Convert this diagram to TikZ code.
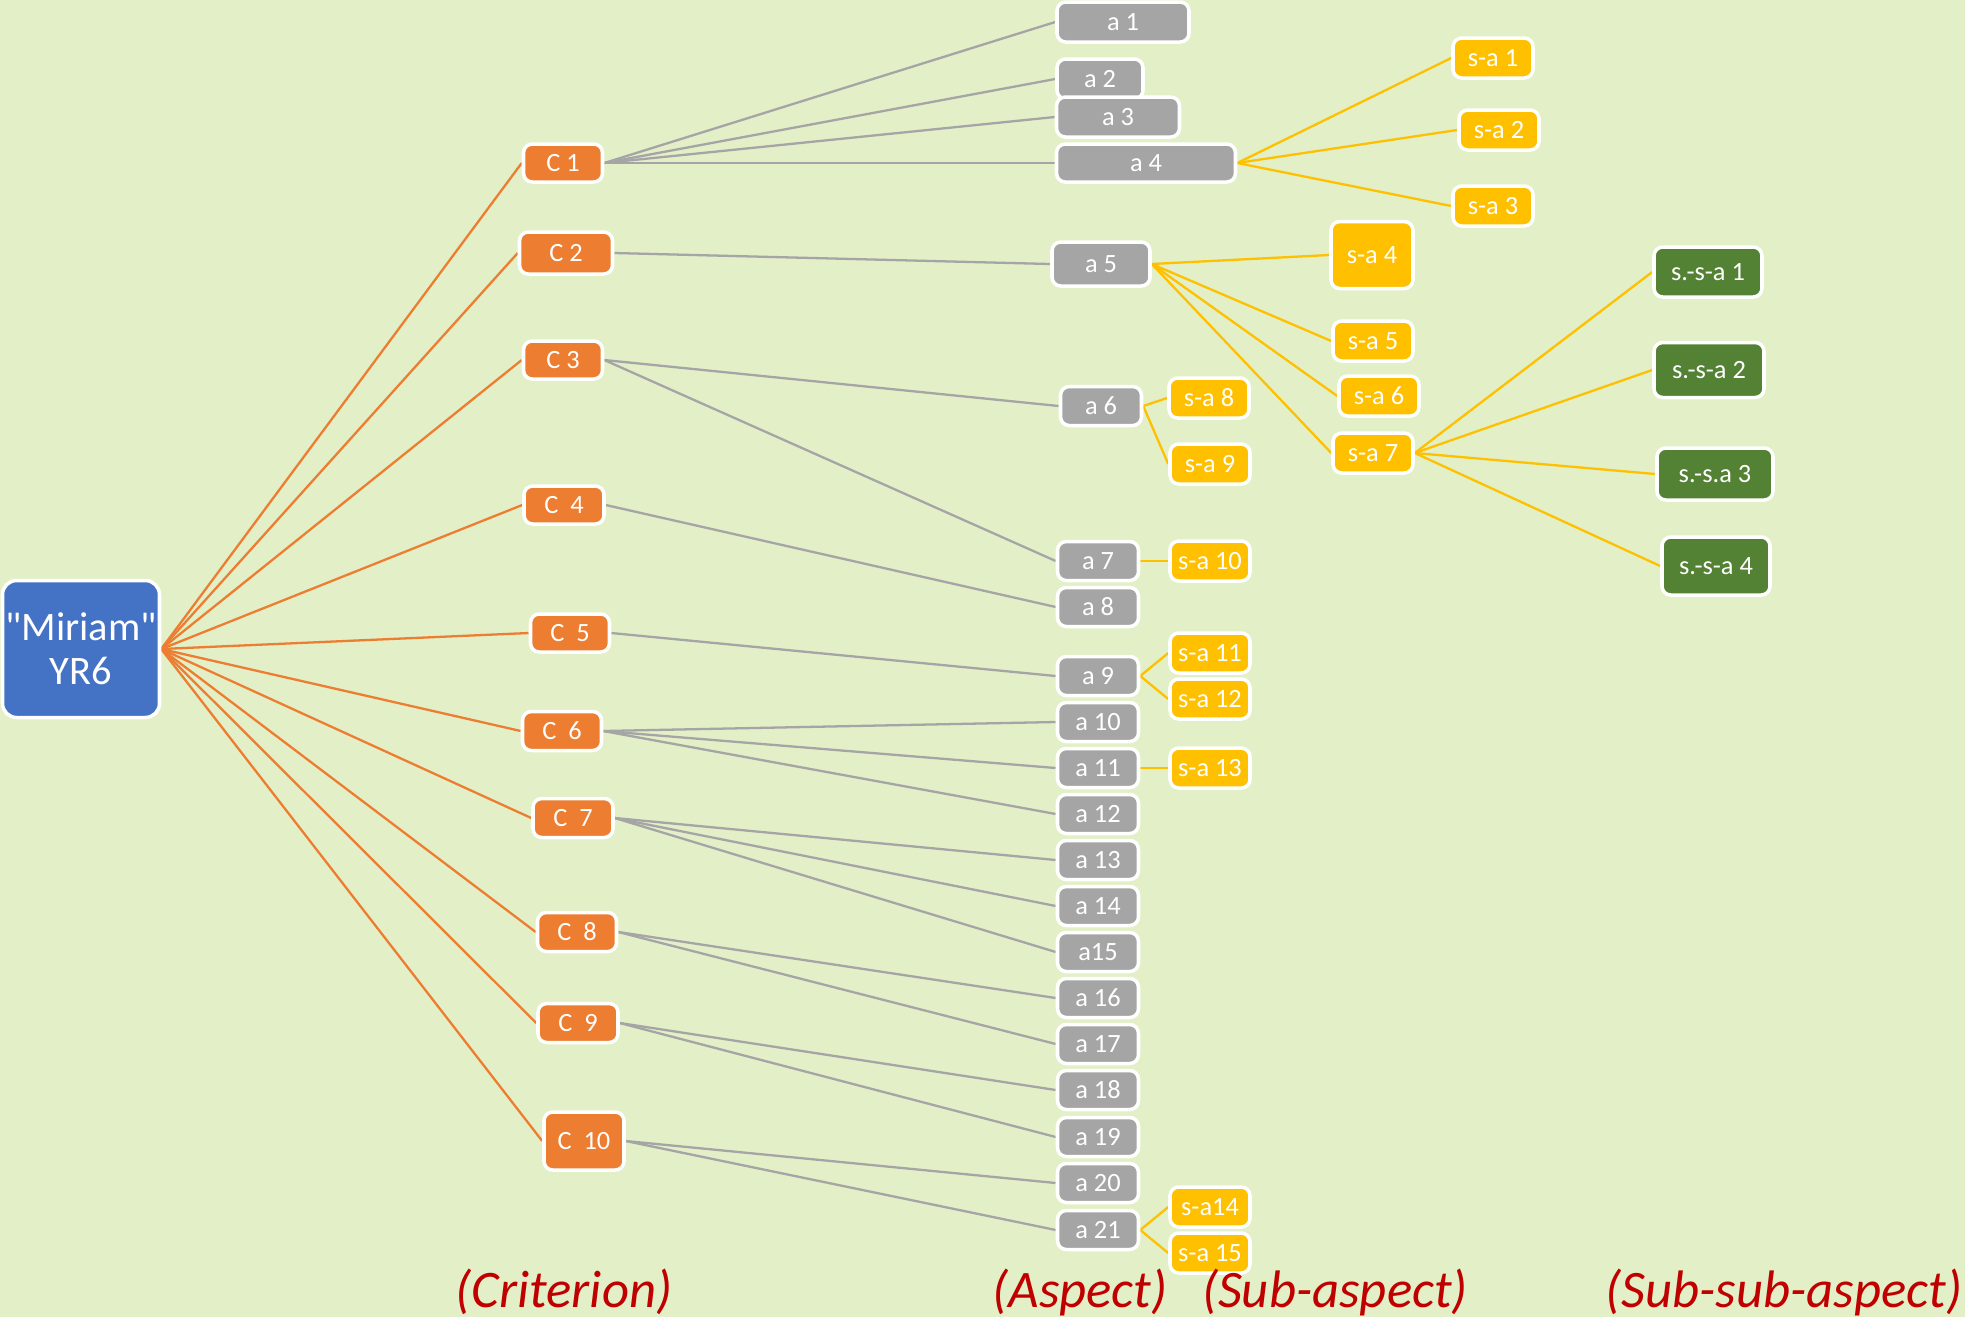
\documentclass[tikz,border=0pt]{standalone}
\usepackage{fontspec}
\setmainfont{Carlito}
\newfontfamily\rawfont{Carlito}[Ligatures=TeXOff]
\pgfdeclarelayer{bg}\pgfdeclarelayer{edges}
\pgfsetlayers{bg,edges,main}
\definecolor{bgc}{HTML}{E2EFC7}
\definecolor{bluec}{HTML}{4472C4}
\definecolor{orc}{HTML}{ED7D31}
\definecolor{grc}{HTML}{A5A5A5}
\definecolor{yec}{HTML}{FFC000}
\definecolor{gnc}{HTML}{548235}
\definecolor{redc}{HTML}{C00000}
\begin{document}
\begin{tikzpicture}[x=0.01cm,y=-0.01cm,
 box/.style={rectangle, rounded corners=2.5pt, draw=white, line width=1pt, text=white, font=\fontsize{7.5}{9}\selectfont, inner sep=0pt},
 sz/.style 2 args={minimum width=#1*0.01cm, minimum height=#2*0.01cm},
 crit/.style={box, fill=orc},
 asp/.style={box, fill=grc, sz={81}{39}},
 sub/.style={box, fill=yec, sz={80}{40}},
 ssub/.style={box, fill=gnc},
 oline/.style={draw=orc, line width=0.65pt},
 gline/.style={draw=grc, line width=0.65pt},
 yline/.style={draw=yec, line width=0.65pt},
 lbl/.style={text=redc, font=\fontsize{15}{18}\selectfont\itshape, inner sep=0pt}
]
\begin{pgfonlayer}{bg}
\path[use as bounding box, fill=bgc] (0,0) rectangle (1965,1317);
\end{pgfonlayer}

% root
\node[box, fill=bluec, rounded corners=4pt, sz={157}{137}, align=center,
  font=\rawfont\fontsize{11.5}{12.5}\selectfont] (M) at (81,649) {"Miriam"\\YR6};

% criteria
\node[crit, sz={79}{38}] (C1) at (563,163) {C 1};
\node[crit, sz={93}{42}] (C2) at (566,253) {C 2};
\node[crit, sz={79}{38}] (C3) at (563,360) {C 3};
\node[crit, sz={80}{38}] (C4) at (564,505) {C\ \ 4};
\node[crit, sz={79}{38}] (C5) at (570,633) {C\ \ 5};
\node[crit, sz={79}{39}] (C6) at (562,731) {C\ \ 6};
\node[crit, sz={80}{39}] (C7) at (573,818) {C\ \ 7};
\node[crit, sz={79}{39}] (C8) at (577,932) {C\ \ 8};
\node[crit, sz={80}{39}] (C9) at (578,1023) {C\ \ 9};
\node[crit, sz={80}{58}] (C10) at (584,1141) {C\ \ 10};

% aspects
\node[asp, sz={132}{40}] (a1) at (1123,22) {a 1};
\node[asp, sz={86}{40}] (a2) at (1100,79) {a 2};
\node[asp, sz={123}{40}] (a3) at (1118,117) {a 3};
\node[asp, sz={179}{38}] (a4) at (1146,163) {a 4};
\node[asp, sz={98}{44}] (a5) at (1101,264) {a 5};
\node[asp] (a6) at (1101,406) {a 6};
\node[asp] (a7) at (1098,561) {a 7};
\node[asp] (a8) at (1098,607) {a 8};
\node[asp] (a9) at (1098,676) {a 9};
\node[asp] (a10) at (1098,722) {a 10};
\node[asp] (a11) at (1098,768) {a 11};
\node[asp] (a12) at (1098,814) {a 12};
\node[asp] (a13) at (1098,860) {a 13};
\node[asp] (a14) at (1098,906) {a 14};
\node[asp] (a15) at (1098,952) {a15};
\node[asp] (a16) at (1098,998) {a 16};
\node[asp] (a17) at (1098,1044) {a 17};
\node[asp] (a18) at (1098,1090) {a 18};
\node[asp] (a19) at (1098,1137) {a 19};
\node[asp] (a20) at (1098,1183) {a 20};
\node[asp] (a21) at (1098,1230) {a 21};

% sub-aspects
\node[sub] (s1) at (1493,58) {s-a 1};
\node[sub] (s2) at (1499,130) {s-a 2};
\node[sub] (s3) at (1493,206) {s-a 3};
\node[sub, sz={82}{67}] (s4) at (1372,255) {s-a 4};
\node[sub] (s5) at (1373,341) {s-a 5};
\node[sub] (s6) at (1379,396) {s-a 6};
\node[sub] (s7) at (1373,453) {s-a 7};
\node[sub] (s8) at (1209,398) {s-a 8};
\node[sub] (s9) at (1210,464) {s-a 9};
\node[sub] (s10) at (1210,561) {s-a 10};
\node[sub] (s11) at (1210,653) {s-a 11};
\node[sub] (s12) at (1210,699) {s-a 12};
\node[sub] (s13) at (1210,768) {s-a 13};
\node[sub] (s14) at (1210,1207) {s-a14};
\node[sub] (s15) at (1210,1253) {s-a 15};

% sub-sub-aspects
\node[ssub, sz={108}{50}] (t1) at (1708,272) {s.-s-a 1};
\node[ssub, sz={110}{55}] (t2) at (1709,370) {s.-s-a 2};
\node[ssub, sz={116}{52}] (t3) at (1715,474) {s.-s.a 3};
\node[ssub, sz={108}{58}] (t4) at (1716,566) {s.-s-a 4};

% level labels
\node[lbl] (L1) at (564,1292) {(Criterion)};
\node[lbl] (L2) at (1080,1292) {(Aspect)};
\node[lbl] (L3) at (1335,1292) {(Sub-aspect)};
\node[lbl] (L4) at (1784,1292) {(Sub-sub-aspect)};

\begin{pgfonlayer}{edges}
\foreach \i in {1,...,10} \draw[oline] (M.east) -- (C\i.west);
\foreach \i in {1,2,3,4} \draw[gline] (C1.east) -- (a\i.west);
\draw[gline] (C2.east) -- (a5.west);
\foreach \i in {6,7} \draw[gline] (C3.east) -- (a\i.west);
\draw[gline] (C4.east) -- (a8.west);
\draw[gline] (C5.east) -- (a9.west);
\foreach \i in {10,11,12} \draw[gline] (C6.east) -- (a\i.west);
\foreach \i in {13,14,15} \draw[gline] (C7.east) -- (a\i.west);
\foreach \i in {16,17} \draw[gline] (C8.east) -- (a\i.west);
\foreach \i in {18,19} \draw[gline] (C9.east) -- (a\i.west);
\foreach \i in {20,21} \draw[gline] (C10.east) -- (a\i.west);
\foreach \i in {1,2,3} \draw[yline] (a4.east) -- (s\i.west);
\foreach \i in {4,5,6,7} \draw[yline] (a5.east) -- (s\i.west);
\foreach \i in {8,9} \draw[yline] (a6.east) -- (s\i.west);
\draw[yline] (a7.east) -- (s10.west);
\foreach \i in {11,12} \draw[yline] (a9.east) -- (s\i.west);
\draw[yline] (a11.east) -- (s13.west);
\foreach \i in {14,15} \draw[yline] (a21.east) -- (s\i.west);
\foreach \i in {1,2,3,4} \draw[yline] (s7.east) -- (t\i.west);
\end{pgfonlayer}
\end{tikzpicture}
\end{document}
